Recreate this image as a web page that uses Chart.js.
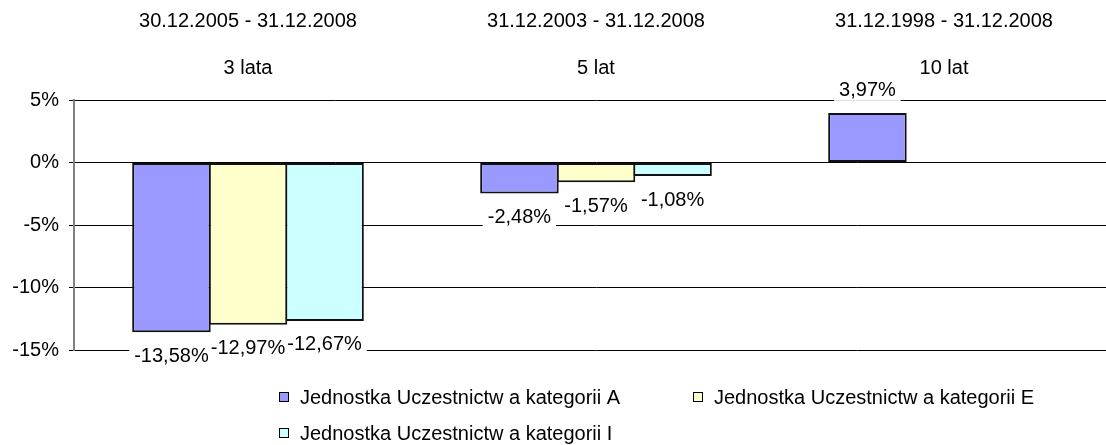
<!DOCTYPE html>
<html lang="pl">
<head>
<meta charset="UTF-8" />
<title>Stopy zwrotu</title>
<script src="https://cdn.jsdelivr.net/npm/chart.js"></script>
<style>
  html, body {
    margin: 0;
    padding: 0;
    background: #fff;
    overflow: hidden;
  }
  #wrap {
    position: relative;
    width: 1118px;
    height: 445px;
  }
</style>
</head>
<body>
<div id="wrap"><canvas id="chart"></canvas></div>
<script>
  // periods shown above the plot
  const periods = ['30.12.2005 - 31.12.2008', '31.12.2003 - 31.12.2008', '31.12.1998 - 31.12.2008'];
  const spans = ['3 lata', '5 lat', '10 lat'];

  const seriesNames = [
    'Jednostka Uczestnictw a kategorii A',
    'Jednostka Uczestnictw a kategorii E',
    'Jednostka Uczestnictw a kategorii I'
  ];
  const seriesA = [-13.58, -2.48, 3.97];
  const seriesE = [-12.97, -1.57, null];
  const seriesI = [-12.67, -1.08, null];
  const seriesColors = ['#9999FF', '#FFFFCC', '#CCFFFF'];

  const FONT = "'Liberation Sans', Arial, sans-serif";

  const fmt = v => v.toFixed(2).replace('.', ',') + '%';

  // value labels on white boxes (they hide the gridlines behind them)
  const valueLabels = {
    id: 'valueLabels',
    afterDatasetsDraw(chart) {
      const ctx = chart.ctx;
      ctx.save();
      ctx.font = '20px ' + FONT;
      ctx.textAlign = 'center';
      ctx.textBaseline = 'middle';
      const items = [];
      chart.data.datasets.forEach((ds, i) => {
        const meta = chart.getDatasetMeta(i);
        meta.data.forEach((bar, j) => {
          const v = ds.data[j];
          if (v === null || v === undefined) return;
          const txt = fmt(v);
          const cy = v < 0 ? bar.y + 23 : bar.y - 23;
          items.push({ txt, x: bar.x, cy, w: ctx.measureText(txt).width + 10 });
        });
      });
      // boxes first, then text, so a box never clips a neighbour's text
      ctx.fillStyle = '#fff';
      items.forEach(it => ctx.fillRect(it.x - it.w / 2, it.cy - 11, it.w, 22));
      ctx.fillStyle = '#000';
      items.forEach(it => ctx.fillText(it.txt, it.x, it.cy + 1));
      ctx.restore();
    }
  };

  // two-column legend below the plot
  const gridLegend = {
    id: 'gridLegend',
    afterDraw(chart) {
      const ctx = chart.ctx;
      ctx.save();
      ctx.font = '20px ' + FONT;
      ctx.textBaseline = 'middle';
      ctx.textAlign = 'left';
      chart.data.datasets.forEach((ds, i) => {
        const col = i % 2;
        const row = Math.floor(i / 2);
        const x = 279 + col * 414;
        const y = 397 + row * 36;
        ctx.fillStyle = ds.backgroundColor;
        ctx.fillRect(x, y - 5, 10, 10);
        ctx.strokeStyle = '#000';
        ctx.lineWidth = 1;
        ctx.strokeRect(x + 0.5, y - 4.5, 9, 9);
        ctx.fillStyle = '#000';
        ctx.fillText(ds.label, x + 21, y + 1);
      });
      ctx.restore();
    }
  };

  new Chart(document.getElementById('chart'), {
    type: 'bar',
    data: {
      labels: periods.map((p, i) => [p, spans[i]]),
      datasets: [seriesA, seriesE, seriesI].map((d, i) => ({
        label: seriesNames[i],
        data: d,
        backgroundColor: seriesColors[i],
        borderColor: '#111',
        borderWidth: 2,
        borderSkipped: false,
        // bars overlap by one border width so neighbours share a single edge
        categoryPercentage: 0.66,
        barPercentage: 1.026
      }))
    },
    options: {
      responsive: true,
      maintainAspectRatio: false,
      animation: false,
      layout: { padding: { top: 0, right: 0, bottom: 95, left: 0 } },
      plugins: {
        legend: { display: false },
        tooltip: { enabled: false }
      },
      scales: {
        x: {
          position: 'top',
          grid: { display: false, drawTicks: false },
          border: { display: false },
          ticks: {
            autoSkip: false,
            maxRotation: 0,
            padding: 8,
            color: '#000',
            font: { family: FONT, size: 20, lineHeight: 2.335 }
          },
          afterFit(scale) { scale.height = 100; }
        },
        y: {
          min: -15,
          max: 5,
          grid: { color: '#000', lineWidth: 1, tickLength: 5 },
          border: { display: true, color: '#808080', width: 2 },
          ticks: {
            stepSize: 5,
            padding: 10,
            color: '#000',
            font: { family: FONT, size: 20 },
            callback: v => v + '%'
          },
          afterFit(scale) { scale.width = 74; }
        }
      }
    },
    plugins: [valueLabels, gridLegend]
  });
</script>
</body>
</html>
